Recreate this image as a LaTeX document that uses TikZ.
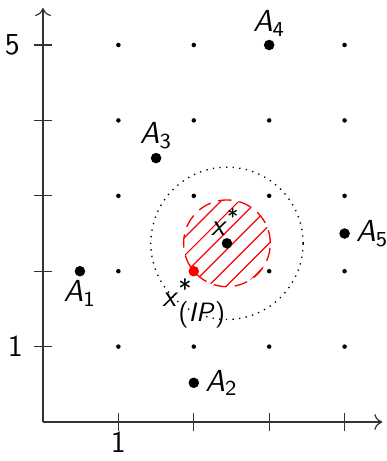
\documentclass[tikz,border=0pt]{standalone}
\usetikzlibrary{positioning,arrows.meta,calc}
\renewcommand{\familydefault}{\sfdefault}
\begin{document}
\begin{tikzpicture}[x=1cm,y=1cm,
  font=\sffamily\fontsize{11.5}{13}\selectfont,
  smalldot/.style={circle,fill=black,inner sep=0pt,minimum size=0.06cm},
  bigdot/.style={circle,fill=black,inner sep=0pt,minimum size=0.14cm},
  lbl/.style={inner sep=1pt},
  axis/.style={draw=black!80,line width=0.45pt},
  tickmark/.style={draw=black!80,line width=0.45pt}]
\useasboundingbox (-0.57,-0.517) rectangle (4.56,5.597);
% axes
\coordinate (O) at (0,0);
\coordinate (xend) at (4.5,0);
\coordinate (yend) at (0,5.49);
\draw[axis,-{To[length=3pt,width=6pt]}] (O) -- (xend);
\draw[axis,-{To[length=3pt,width=6pt]}] (O) -- (yend);
\foreach \i in {1,...,4} \draw[tickmark] (\i,-0.12) -- (\i,0.12);
\foreach \j in {1,...,5} \draw[tickmark] (-0.12,\j) -- (0.12,\j);
\node[inner sep=0pt] (tx1) at (1,-0.265) {1};
\node[anchor=east,inner sep=0pt] (ty1) at (-0.26,1) {1};
\node[anchor=east,inner sep=0pt] (ty5) at (-0.3,5) {5};
% grid dots
\foreach \i/\j in {1/1,2/1,3/1,4/1,1/2,3/2,4/2,1/3,2/3,3/3,4/3,1/4,2/4,3/4,4/4,1/5,2/5,4/5}
  \node[smalldot] (g\i\j) at (\i,\j) {};
% circles
\coordinate (xs) at (2.44,2.37);
\coordinate (xip) at (2,2);
\draw[dotted,line width=0.5pt] (xs) circle (1.01);
\begin{scope}
  \clip (xs) circle (0.575);
  \foreach \c in {-1.6,-1.36,...,1.6}
    \draw[red,line width=0.45pt] ($(xs)+(\c-1,-1)$) -- ($(xs)+(\c+1,1)$);
\end{scope}
\draw[red,dashed,dash pattern=on 5pt off 3pt,line width=0.5pt] (xs) circle (0.575);
\node[bigdot] (XS) at (xs) {};
\node[bigdot,fill=red] (XIP) at (xip) {};
\node[lbl,anchor=south] (lxs) at (2.42,2.43) {\textit{x}\textsuperscript{*}};
\node[lbl,anchor=north] (lxip) at (2.0,1.94) {\textit{x}\rlap{\raisebox{0.6ex}{\fontsize{10}{11}\selectfont*}}\raisebox{-1.05ex}{\fontsize{10}{11}\selectfont(\textit{IP})}};
% A points
\node[bigdot] (A1) at (0.49,2) {};
\node[bigdot] (A2) at (2,0.52) {};
\node[bigdot] (A3) at (1.5,3.5) {};
\node[bigdot] (A4) at (3,5) {};
\node[bigdot] (A5) at (4,2.5) {};
\node[lbl,below=0pt of A1] (lA1) {\textit{A}\textsubscript{1}};
\node[lbl,right=1pt of A2] (lA2) {\textit{A}\textsubscript{2}};
\node[lbl,above=0pt of A3] (lA3) {\textit{A}\textsubscript{3}};
\node[lbl,above=0pt of A4] (lA4) {\textit{A}\textsubscript{4}};
\node[lbl,right=1pt of A5] (lA5) {\textit{A}\textsubscript{5}};
\end{tikzpicture}
\end{document}
